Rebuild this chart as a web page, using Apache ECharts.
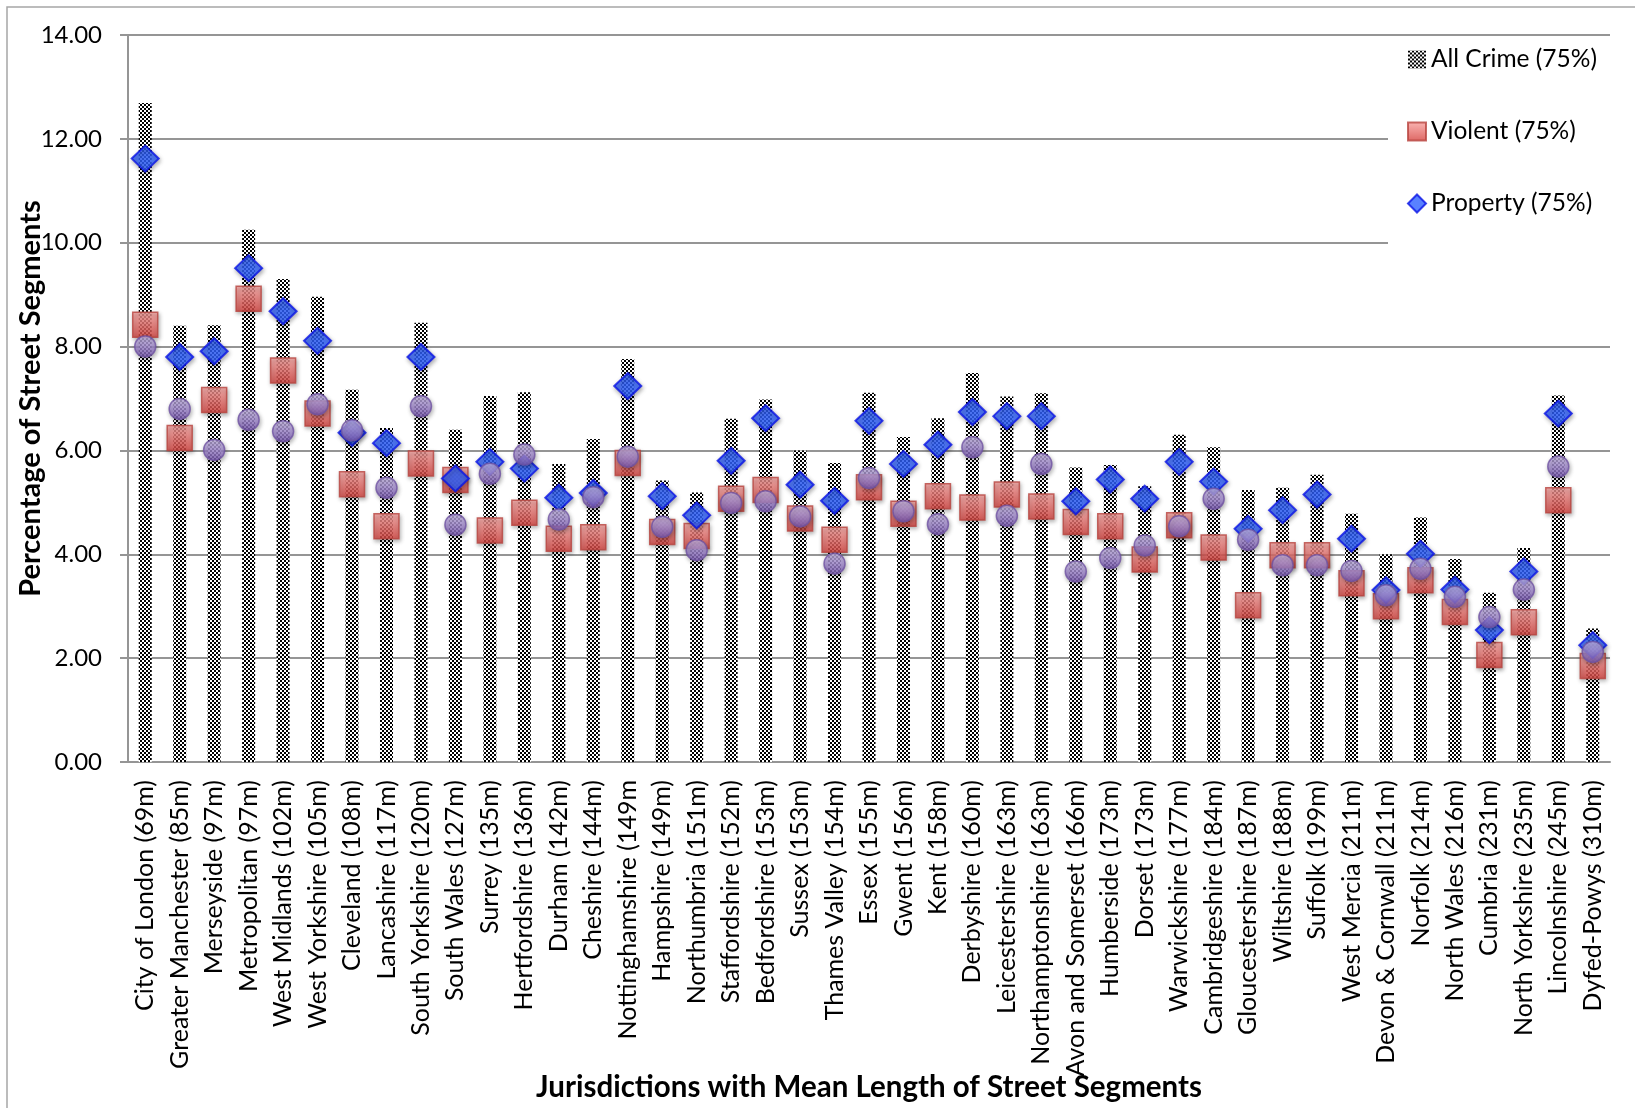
<!DOCTYPE html>
<html>
<head>
<meta charset="utf-8">
<script src="https://cdn.jsdelivr.net/npm/echarts@6/dist/echarts.min.js"></script>
<style>
  html, body { margin: 0; padding: 0; background: #fff; }
  #chart { width: 1635px; height: 1108px; }
</style>
</head>
<body>
<div id="chart"></div>
<script>
// Jurisdictions, ordered by mean street-segment length
const categories = [
  'City of London (69m)', 'Greater Manchester (85m)', 'Merseyside (97m)', 'Metropolitan (97m)',
  'West Midlands (102m)', 'West Yorkshire (105m)', 'Cleveland (108m)', 'Lancashire (117m)',
  'South Yorkshire (120m)', 'South Wales (127m)', 'Surrey (135m)', 'Hertfordshire (136m)',
  'Durham (142m)', 'Cheshire (144m)', 'Nottinghamshire (149m', 'Hampshire (149m)',
  'Northumbria (151m)', 'Staffordshire (152m)', 'Bedfordshire (153m)', 'Sussex (153m)',
  'Thames Valley (154m)', 'Essex (155m)', 'Gwent (156m)', 'Kent (158m)', 'Derbyshire (160m)',
  'Leicestershire (163m)', 'Northamptonshire (163m)', 'Avon and Somerset (166m)',
  'Humberside (173m)', 'Dorset (173m)', 'Warwickshire (177m)', 'Cambridgeshire (184m)',
  'Gloucestershire (187m)', 'Wiltshire (188m)', 'Suffolk (199m)', 'West Mercia (211m)',
  'Devon & Cornwall (211m)', 'Norfolk (214m)', 'North Wales (216m)', 'Cumbria (231m)',
  'North Yorkshire (235m)', 'Lincolnshire (245m)', 'Dyfed-Powys (310m)'
];

// Percentage of street segments accounting for 75% of crime
const allCrime = [12.69, 8.40, 8.41, 10.25, 9.30, 8.96, 7.17, 6.43, 8.46, 6.40, 7.05,
  7.12, 5.74, 6.22, 7.76, 5.42, 5.19, 6.61, 6.98, 6.00, 5.76, 7.11,
  6.26, 6.62, 7.49, 7.04, 7.10, 5.67, 5.72, 5.31, 6.30, 6.06, 5.24,
  5.28, 5.53, 4.78, 4.00, 4.71, 3.91, 3.26, 4.12, 7.06, 2.57];

const violent = [8.42, 6.24, 6.97, 8.92, 7.54, 6.71, 5.35, 4.54, 5.75, 5.43, 4.46,
  4.80, 4.30, 4.33, 5.76, 4.43, 4.35, 5.07, 5.24, 4.69, 4.28, 5.29,
  4.78, 5.12, 4.90, 5.15, 4.92, 4.62, 4.54, 3.90, 4.56, 4.13, 3.02,
  3.98, 3.98, 3.44, 3.00, 3.50, 2.89, 2.06, 2.69, 5.04, 1.85];

const property = [11.62, 7.80, 7.91, 9.51, 8.68, 8.11, 6.34, 6.14, 7.80, 5.46, 5.78,
  5.65, 5.09, 5.18, 7.24, 5.12, 4.75, 5.80, 6.62, 5.34, 5.03, 6.57,
  5.74, 6.11, 6.74, 6.66, 6.66, 5.02, 5.44, 5.07, 5.78, 5.40, 4.49,
  4.85, 5.15, 4.30, 3.31, 4.01, 3.32, 2.54, 3.67, 6.71, 2.25];

const circleValues = [8.00, 6.80, 6.01, 6.59, 6.37, 6.89, 6.39, 5.28, 6.85, 4.57, 5.55,
  5.92, 4.67, 5.10, 5.88, 4.53, 4.08, 4.99, 5.02, 4.73, 3.82, 5.47,
  4.83, 4.58, 6.06, 4.74, 5.74, 3.67, 3.93, 4.17, 4.54, 5.07, 4.28,
  3.79, 3.79, 3.68, 3.21, 3.72, 3.18, 2.79, 3.32, 5.69, 2.12];

const yTicks = { min: 0, max: 14, step: 2 };

// fine black/white checkerboard fill for the bars
const checker = document.createElement('canvas');
checker.width = 4; checker.height = 4;
const cx = checker.getContext('2d');
cx.fillStyle = '#ffffff'; cx.fillRect(0, 0, 4, 4);
cx.fillStyle = '#000000'; cx.fillRect(0, 0, 2, 2); cx.fillRect(2, 2, 2, 2);

const FONT = 'Lato, "Open Sans", sans-serif';
const GRID_GREY = '#959595';

const markerShadow = {
  shadowBlur: 4,
  shadowColor: 'rgba(0,0,0,0.35)',
  shadowOffsetX: 1,
  shadowOffsetY: 2
};

const chart = echarts.init(document.getElementById('chart'), null, { renderer: 'canvas' });

chart.setOption({
  animation: false,
  backgroundColor: '#ffffff',
  textStyle: { fontFamily: FONT },
  graphic: [{
    type: 'rect',
    shape: { x: 7, y: 7, width: 1700, height: 1200 },
    style: { fill: 'none', stroke: '#a6a6a6', lineWidth: 1.5 },
    silent: true,
    z: -10
  }],
  grid: {
    left: 128, right: 25, top: 35, bottom: 346,
    containLabel: false,
    outerBoundsMode: 'none'
  },
  legend: {
    orient: 'vertical',
    left: 1388,
    top: 38,
    padding: [9, 28, 62, 19],
    backgroundColor: '#ffffff',
    itemWidth: 18,
    itemHeight: 18,
    itemGap: 47,
    textStyle: { fontFamily: FONT, fontSize: 24.5, lineHeight: 25, color: '#000' },
    data: [
      { name: 'All Crime (75%)', icon: 'rect' },
      { name: 'Violent (75%)', icon: 'rect' },
      { name: 'Property (75%)', icon: 'diamond' }
    ],
    selectedMode: false
  },
  xAxis: {
    type: 'category',
    data: categories,
    boundaryGap: true,
    name: 'Jurisdictions with Mean Length of Street Segments',
    nameLocation: 'middle',
    nameGap: 310,
    nameMoveOverlap: false,
    nameTextStyle: { fontFamily: FONT, fontWeight: 'bold', fontSize: 29.5, color: '#000' },
    axisLine: { show: true, lineStyle: { color: GRID_GREY, width: 2 } },
    axisTick: { show: false },
    axisLabel: {
      rotate: 90, interval: 0, margin: 18,
      fontFamily: FONT, fontSize: 25, color: '#000'
    },
    splitLine: { show: false }
  },
  yAxis: {
    type: 'value',
    min: yTicks.min,
    max: yTicks.max,
    interval: yTicks.step,
    name: 'Percentage of Street Segments',
    nameLocation: 'middle',
    nameGap: 83,
    nameMoveOverlap: false,
    nameTextStyle: { fontFamily: FONT, fontWeight: 'bold', fontSize: 29, color: '#000' },
    axisLine: { show: true, lineStyle: { color: GRID_GREY, width: 2 } },
    axisTick: { show: true, length: 8, lineStyle: { color: GRID_GREY, width: 2 } },
    axisLabel: {
      margin: 26, fontFamily: FONT, fontSize: 24, color: '#000',
      formatter: v => v.toFixed(2)
    },
    splitLine: { show: true, lineStyle: { color: GRID_GREY, width: 2 } }
  },
  series: [
    {
      name: 'All Crime (75%)',
      type: 'bar',
      data: allCrime,
      barWidth: 13,
      itemStyle: { color: { image: checker, repeat: 'repeat' } },
      emphasis: { disabled: true },
      z: 2
    },
    {
      name: 'Violent (75%)',
      type: 'scatter',
      data: violent,
      symbol: 'rect',
      symbolSize: 25,
      itemStyle: Object.assign({
        color: {
          type: 'linear', x: 0, y: 0, x2: 0, y2: 1,
          colorStops: [
            { offset: 0, color: '#f9a3a0' },
            { offset: 1, color: '#d5403c' }
          ]
        },
        borderColor: '#b8433f',
        borderWidth: 1.5
      }, markerShadow),
      emphasis: { disabled: true },
      z: 3
    },
    {
      name: 'Property (75%)',
      type: 'scatter',
      data: property,
      symbol: 'diamond',
      symbolSize: [27, 26],
      itemStyle: Object.assign({
        color: '#3062ff',
        borderColor: '#0a14e6',
        borderWidth: 2
      }, markerShadow),
      emphasis: { disabled: true },
      z: 4
    },
    {
      name: 'Series 4',
      type: 'scatter',
      data: circleValues,
      symbol: 'circle',
      symbolSize: 21,
      itemStyle: Object.assign({
        color: {
          type: 'linear', x: 0, y: 0, x2: 0, y2: 1,
          colorStops: [
            { offset: 0, color: '#d2c4f2' },
            { offset: 1, color: '#7856b2' }
          ]
        },
        borderColor: '#6f52a3',
        borderWidth: 1.5
      }, markerShadow),
      emphasis: { disabled: true },
      z: 5
    }
  ]
});
</script>
</body>
</html>
